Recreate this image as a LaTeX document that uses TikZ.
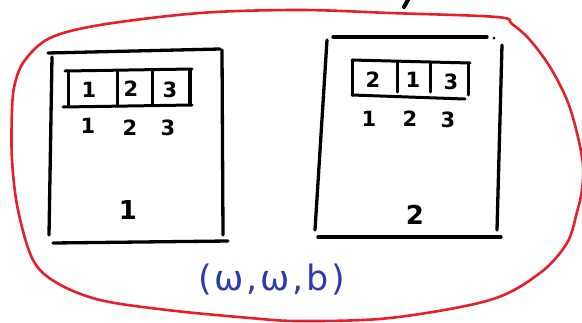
\documentclass[tikz,border=0pt]{standalone}
\usepackage{fontspec}
\newfontfamily\handfont{DejaVu Sans}
\newfontfamily\handwide[LetterSpace=8]{DejaVu Sans}
\definecolor{penred}{RGB}{232,30,40}
\definecolor{penblue}{RGB}{45,60,170}
\tikzset{
  ink/.style={draw=black, line width=3.3pt, line cap=round},
  cellink/.style={draw=black, line width=3pt, line cap=round},
  blob/.style={draw=penred, line width=2.6pt},
  digit/.style={inner sep=0pt, font=\handfont\bfseries\fontsize{21}{21}\selectfont},
  bigdigit/.style={inner sep=0pt, font=\handfont\bfseries\fontsize{26}{26}\selectfont},
  label/.style={inner sep=0pt, text=penblue, font=\handwide\fontsize{35}{35}\selectfont}
}
\begin{document}
\begin{tikzpicture}[x=1pt,y=-1pt]
\useasboundingbox (0,0) rectangle (582,322);
\begin{scope}
\clip (0,0) rectangle (582,322);
% red enclosing curve
\draw[blob] plot[smooth cycle, tension=0.55] coordinates {
 (300,10) (390,13) (497,17) (512,24) (530,40) (550,67) (567,100) (577,133)
 (583,165) (582,190) (577,212) (567,243) (540,273) (490,300) (390,318)
 (300,321) (250,318) (167,310) (100,300) (57,283) (33,260) (18,210)
 (12,160) (12,110) (15,83) (25,60) (50,38) (100,25) (200,13)};
% small black stroke at the top edge
\draw[ink, line width=4pt] (409,-2) -- (404,7);
\end{scope}

% ---- left frame ----
\draw[ink] (48,53) -- (220,49);
\draw[ink] (52,57) -- (49,235);
\draw[ink] (222,50) -- (223,235);
\draw[ink] (53,243) -- (228,241);
% left array
\draw[cellink] (65,71) -- (192,69);
\draw[cellink] (63,107) -- (192,105);
\draw[cellink] (68,72) -- (68,105);
\draw[cellink] (117,71) -- (117,106);
\draw[cellink] (152,70) -- (152,105);
\draw[ink, line width=4pt] (190,70) -- (190,104);
\node[digit] (la1) at (89,90) {1};
\node[digit] (la2) at (131,89) {2};
\node[digit] (la3) at (170,90) {3};
\node[digit] (li1) at (88,126) {1};
\node[digit] (li2) at (130,128) {2};
\node[digit] (li3) at (168,128) {3};
\node[bigdigit] (lname) at (128,210) {1};

% ---- right frame ----
\draw[ink] (333,37) -- (487,37);
\fill (494,38) circle (1.5pt);
\draw[ink] (327,40) -- (315,230);
\draw[ink] (502,45) -- (497,230);
\draw[ink] (318,237) -- (501,237);
% right array
\draw[cellink] (352,60) -- (470,63);
\draw[cellink] (352,95) -- (465,99);
\draw[cellink] (352,60) -- (352,95);
\draw[cellink] (397,62) -- (397,92);
\draw[cellink] (430,62) -- (430,92);
\draw[cellink] (468,63) -- (468,95);
\node[digit] (ra1) at (373,80) {2};
\node[digit] (ra2) at (413,80) {1};
\node[digit] (ra3) at (451,82) {3};
\node[digit] (ri1) at (369,119) {1};
\node[digit] (ri2) at (410,119) {2};
\node[digit] (ri3) at (448,120) {3};
\node[bigdigit] (rname) at (415,215) {2};

% blue label
\node[label] (tuple) at (272,280) {(ω,ω,b)};
\end{tikzpicture}
\end{document}
